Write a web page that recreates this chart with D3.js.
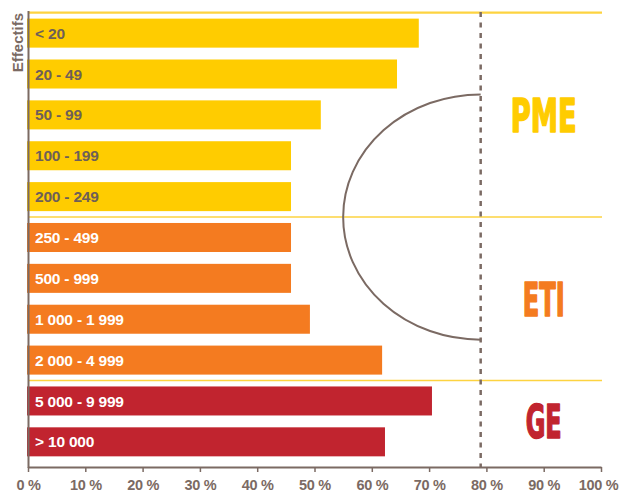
<!DOCTYPE html>
<html>
<head>
<meta charset="utf-8">
<script src="https://cdn.jsdelivr.net/npm/d3@7"></script>
<style>
  html, body { margin: 0; padding: 0; background: #ffffff; }
  svg { display: block; }
</style>
</head>
<body>
<svg id="chart" width="619" height="492"></svg>
<script>
const categories = ["< 20", "20 - 49", "50 - 99", "100 - 199", "200 - 249", "250 - 499", "500 - 999", "1 000 - 1 999", "2 000 - 4 999", "5 000 - 9 999", "> 10 000"];
const values = [68.2, 64.4, 51.1, 45.9, 45.9, 45.9, 45.9, 49.2, 61.8, 70.5, 62.3];
const groupNames = ["PME", "ETI", "GE"];
const groupSizes = [5, 4, 2];
const groupColors = ["#ffcc00", "#f47b20", "#c1242f"];
const groupTextColors = ["#6e5f58", "#ffffff", "#ffffff"];
const xTicks = [0, 10, 20, 30, 40, 50, 60, 70, 80, 90, 100];
const thresholdValue = 79;
const arcLeftValue = 55;
const yTitle = "Effectifs";

const axisColor = "#7b6a63";
const lineGold = "#fdd340";

const svg = d3.select("#chart");
const x = d3.scaleLinear().domain([0, 100]).range([28, 601]);
const step = 40.87;
const yTop = 12.7;
const y = d3.scaleBand().domain(categories).range([yTop, yTop + step * categories.length])
  .paddingInner(0.29).paddingOuter(0.145);
const axisY = 467;

const groupOf = [];
groupSizes.forEach((n, gi) => { for (let i = 0; i < n; i++) groupOf.push(gi); });

const boundary = k => y.range()[0] + k * y.step();
let cum = 0;
const groupBounds = groupSizes.map(n => { const b = [boundary(cum), boundary(cum + n)]; cum += n; return b; });

// bars
svg.append("g").selectAll("rect").data(categories).join("rect")
  .attr("x", x(0) - 1)
  .attr("y", d => y(d))
  .attr("width", (d, i) => x(values[i]) - x(0) + 1)
  .attr("height", y.bandwidth())
  .attr("fill", (d, i) => groupColors[groupOf[i]]);

// bar labels
svg.append("g").selectAll("text").data(categories).join("text")
  .attr("x", x(0) + 7)
  .attr("y", d => y(d) + y.bandwidth() / 2)
  .attr("dy", "0.36em")
  .attr("font-family", "'Liberation Sans', Arial, Helvetica, sans-serif")
  .attr("font-weight", "bold")
  .attr("font-size", 15.5)
  .attr("letter-spacing", -0.2)
  .attr("fill", (d, i) => groupTextColors[groupOf[i]])
  .text(d => d);

// gold horizontal lines: top + separators
const sepYs = [groupBounds[0][0], groupBounds[1][0], groupBounds[2][0]];
svg.append("g").selectAll("line").data(sepYs).join("line")
  .attr("x1", x(0)).attr("x2", x(100) + 1)
  .attr("y1", d => d).attr("y2", d => d)
  .attr("stroke", lineGold)
  .attr("stroke-width", (d, i) => i === 0 ? 2.2 : 1.6);

// arc (half ellipse) centred on PME/ETI boundary
const cx = x(thresholdValue);
const cy = groupBounds[1][0];
const ry = cy - boundary(2);
const rx = cx - x(arcLeftValue);
svg.append("path")
  .attr("d", `M${cx},${cy - ry} A${rx},${ry} 0 0 0 ${cx},${cy + ry}`)
  .attr("fill", "none")
  .attr("stroke", axisColor)
  .attr("stroke-width", 2);

// dashed threshold line
svg.append("line")
  .attr("x1", cx).attr("x2", cx)
  .attr("y1", 12).attr("y2", axisY)
  .attr("stroke", axisColor)
  .attr("stroke-width", 2.5)
  .attr("stroke-dasharray", "5,5.5");

// group labels
const labelWidths = [66, 42, 36];
svg.append("g").selectAll("text").data(groupNames).join("text")
  .attr("x", (d, i) => x(90) - labelWidths[i] / 2)
  .attr("y", (d, i) => (groupBounds[i][0] + groupBounds[i][1]) / 2 + 17)
  .attr("font-family", "'Liberation Sans Narrow', 'DejaVu Sans Condensed', 'Liberation Sans', sans-serif")
  .attr("font-weight", "bold")
  .attr("font-size", 47)
  .attr("textLength", (d, i) => labelWidths[i])
  .attr("lengthAdjust", "spacingAndGlyphs")
  .attr("fill", (d, i) => groupColors[i])
  .attr("stroke", (d, i) => groupColors[i])
  .attr("stroke-width", 1.6)
  .attr("stroke-linejoin", "round")
  .text(d => d);

// x axis
const xAxis = d3.axisBottom(x).tickValues(xTicks).tickSize(5).tickSizeOuter(0).tickPadding(8)
  .tickFormat(d => d + " %");
const gx = svg.append("g").attr("transform", `translate(0,${axisY})`).call(xAxis);
gx.select(".domain").attr("stroke", axisColor).attr("stroke-width", 2);
gx.selectAll(".tick line").attr("stroke", axisColor).attr("stroke-width", 1.5);
gx.selectAll(".tick text")
  .attr("fill", axisColor)
  .attr("font-family", "'Liberation Sans', Arial, Helvetica, sans-serif")
  .attr("font-weight", "bold")
  .attr("font-size", 14.5)
  .attr("letter-spacing", -0.3)
  .attr("x", d => d === 100 ? -3 : 0);

// y axis line
svg.append("line")
  .attr("x1", x(0) + 0.5).attr("x2", x(0) + 0.5)
  .attr("y1", 11).attr("y2", axisY + 1)
  .attr("stroke", axisColor)
  .attr("stroke-width", 2);

// y title
svg.append("text")
  .attr("transform", `translate(23,13) rotate(-90)`)
  .attr("text-anchor", "end")
  .attr("font-family", "'Liberation Sans', Arial, Helvetica, sans-serif")
  .attr("font-weight", "bold")
  .attr("font-size", 15)
  .attr("fill", axisColor)
  .text(yTitle);
</script>
</body>
</html>
